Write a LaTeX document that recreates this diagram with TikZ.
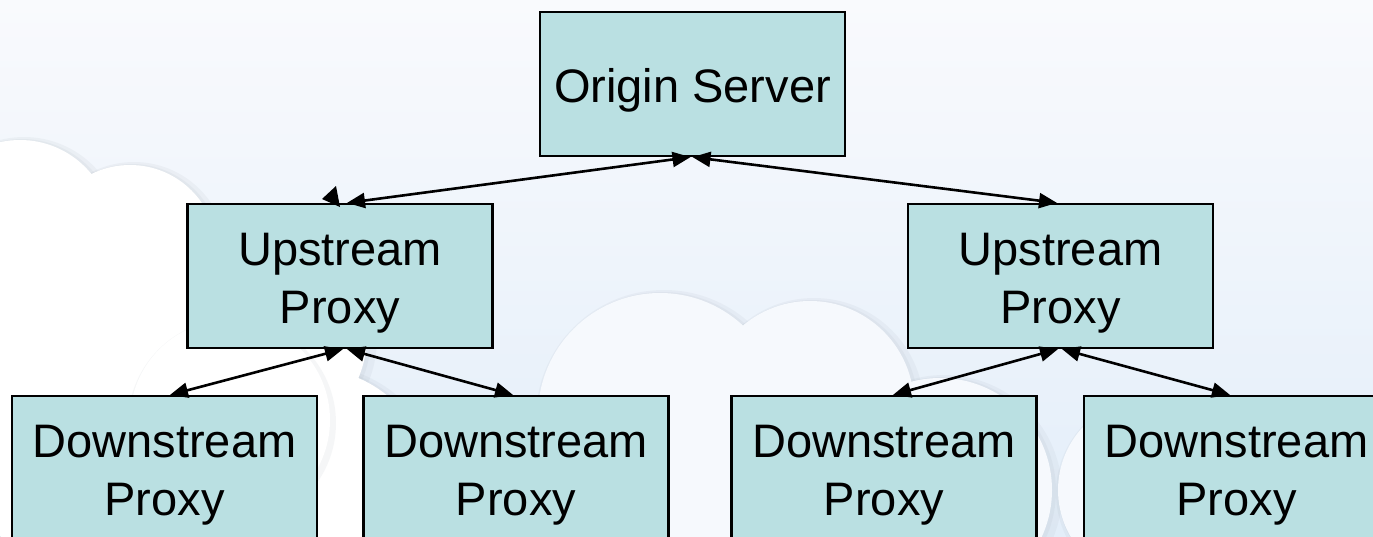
\documentclass[tikz,border=0pt]{standalone}
\usepackage{fontspec}
\setmainfont{Liberation Sans}
\usetikzlibrary{arrows.meta}

\definecolor{bgtop}{HTML}{F9FAFD}
\definecolor{bgbot}{HTML}{E3EEF9}
\definecolor{boxfill}{HTML}{BAE0E2}
\definecolor{cloudedge}{HTML}{9AA3AE}
\definecolor{hazewhite}{HTML}{F6F9FD}

% raises the first text line so it sits where the boxes print it
\newcommand{\firstline}{\rule{0pt}{46pt}}

\tikzset{
  proxybox/.style={draw=black, line width=2.2pt, fill=boxfill,
    minimum width=305pt, minimum height=144pt, inner sep=0pt,
    align=center, text=black,
    font=\fontsize{47}{58}\selectfont},
  link/.style={line width=2.6pt, draw=black,
    {Triangle[length=18pt,width=15pt]}-{Triangle[length=18pt,width=15pt]}},
  puff/.style={fill=white},
  puffedge/.style={fill=cloudedge, fill opacity=0.09},
}

\begin{document}
\begin{tikzpicture}[x=1pt, y=-1pt]
\useasboundingbox (0,0) rectangle (1373,536);
\begin{scope}
  \clip (0,0) rectangle (1373,536);
  % sky
  \shade[top color=bgtop, bottom color=bgbot, middle color=bgtop!50!bgbot]
    (0,0) rectangle (1373,536);
  % soft grey rims of the clouds
  \foreach \dx/\dy/\r in {
      20/232/92, 130/252/87, 255/335/112, 85/410/152, 310/490/122,
      660/415/122, 810/405/104, 940/490/112, 540/505/102,
      1150/490/92, 1300/530/102, 700/480/90}{
    \fill[puffedge] (\dx+4,\dy+3) circle[radius=\r pt+6pt];
    \fill[puffedge] (\dx+2,\dy+1) circle[radius=\r pt+2pt];
  }
  % cloud bodies
  \foreach \dx/\dy/\r in {
      20/232/92, 130/252/87, 255/335/112, 85/410/152, 310/490/122,
      540/505/102, 1300/530/102}{
    \fill[puff] (\dx,\dy) circle[radius=\r pt];
  }
  % slightly bluish cloud in the middle
  \foreach \dx/\dy/\r in {
      660/415/122, 810/405/104, 940/490/112, 1150/490/92, 700/480/90}{
    \fill[hazewhite] (\dx,\dy) circle[radius=\r pt];
  }
  % front puff with its own rim
  \fill[puffedge] (232,423) circle[radius=104pt];
  \fill[puff] (230,420) circle[radius=100pt];
\end{scope}

% servers and proxies
\node[proxybox] (os) at (692.5,84)  {\firstline Origin Server};
\node[proxybox] (ul) at (340,276)   {\firstline Upstream\\Proxy};
\node[proxybox] (ur) at (1060.5,276){\firstline Upstream\\Proxy};
\node[proxybox] (d1) at (164.5,468) {\firstline Downstream\\Proxy};
\node[proxybox] (d2) at (516,468)   {\firstline Downstream\\Proxy};
\node[proxybox] (d3) at (884,468)   {\firstline Downstream\\Proxy};
\node[proxybox] (d4) at (1236.5,468){\firstline Downstream\\Proxy};

% two-way links
\draw[link] ([xshift=-2pt]os.south) -- ([xshift=7pt]ul.north);
\draw[link] ([xshift=0pt]os.south) -- ([xshift=-3.5pt]ur.north);
\draw[link] ([xshift=3pt]ul.south) -- ([xshift=5.5pt]d1.north);
\draw[link] ([xshift=7pt]ul.south) -- ([xshift=-3pt]d2.north);
\draw[link] ([xshift=-2.5pt]ur.south) -- ([xshift=9pt]d3.north);
\draw[link] ([xshift=1.5pt]ur.south) -- ([xshift=-6.5pt]d4.north);

% stray second head on the upper-left link
\fill[black] (322,199) -- (336,186) -- (340,207) -- cycle;
\end{tikzpicture}
\end{document}
